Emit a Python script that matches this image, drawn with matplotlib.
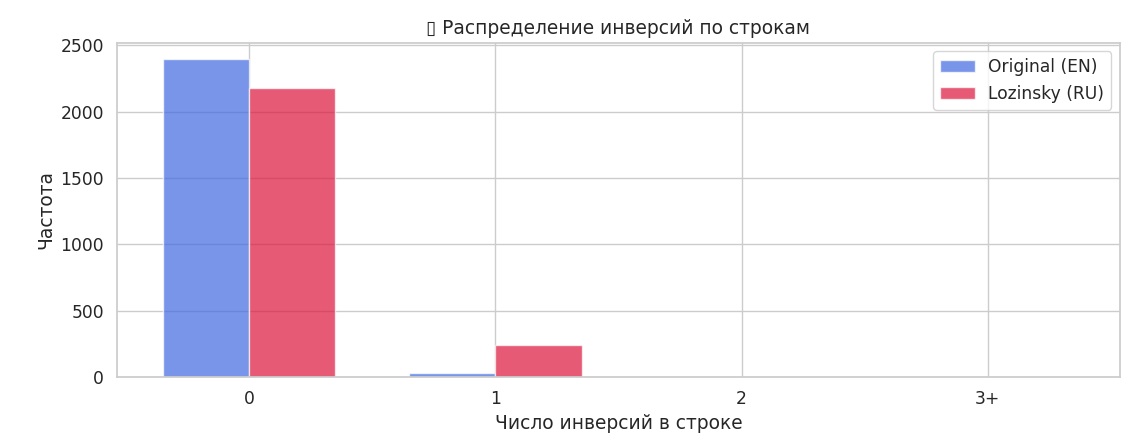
import numpy as np
import matplotlib
matplotlib.use('Agg')
import matplotlib.pyplot as plt
import seaborn as sns

sns.set_theme(style='whitegrid', font_scale=1.12)

# inversion counts per line
categories = ['0', '1', '2', '3+']
original_en = [2400, 30, 0, 0]
lozinsky_ru = [2180, 242, 0, 0]

x = np.arange(len(categories))
width = 0.35

fig, ax = plt.subplots(figsize=(11.39, 4.46), dpi=100)
ax.bar(x - width/2, original_en, width, label='Original (EN)', color='royalblue', alpha=0.7)
ax.bar(x + width/2, lozinsky_ru, width, label='Lozinsky (RU)', color='crimson', alpha=0.7)

ax.set_xticks(x)
ax.set_xticklabels(categories)
ax.set_xlabel('Число инверсий в строке')
ax.set_ylabel('Частота')
# the emoji has no glyph in any installed font, the reference shows a box
ax.set_title('\u25af Распределение инверсий по строкам')
ax.legend()

plt.subplots_adjust(left=0.103, right=0.983, top=0.904, bottom=0.155)
plt.savefig('out.png')
